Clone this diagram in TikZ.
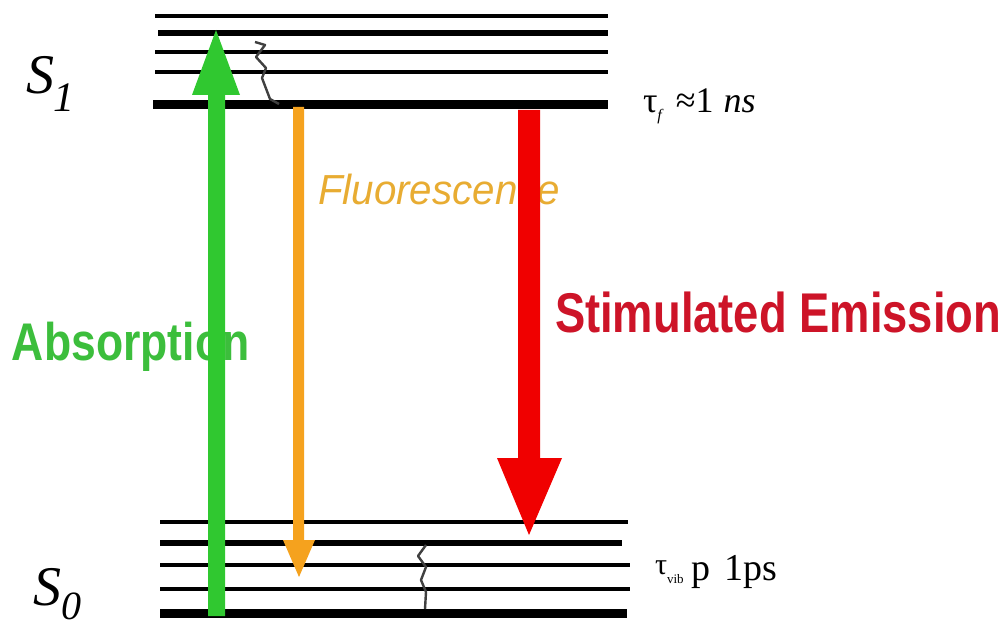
\documentclass[tikz,border=0pt]{standalone}
\usepackage{fontspec}
\usepackage{graphicx}
\setsansfont{Liberation Sans}
\newfontfamily\serifT{Liberation Serif}
\definecolor{absgreen}{RGB}{48,200,48}
\definecolor{abstext}{RGB}{60,190,60}
\definecolor{fluoorange}{RGB}{245,162,30}
\definecolor{fluotext}{RGB}{232,172,50}
\definecolor{emired}{RGB}{240,0,0}
\definecolor{emitext}{RGB}{205,20,40}
\tikzset{
  thinlvl/.style={line width=3.5pt},
  midlvl/.style={line width=5.5pt},
  thicklvl/.style={line width=9pt},
  squig/.style={line width=2.4pt, draw=black!75, line join=round},
  lbl/.style={anchor=base west, inner sep=0pt, outer sep=0pt},
}
\begin{document}
\begin{tikzpicture}[x=1pt,y=-1pt]
\useasboundingbox (0,0) rectangle (1007,628);
\fill[white] (0,0) rectangle (1007,628);

% S1 levels
\draw[thinlvl]  (155,16)  -- (608,16);
\draw[midlvl]   (158,33)  -- (608,33);
\draw[thinlvl]  (155,52)  -- (608,52);
\draw[thinlvl]  (155,72)  -- (608,72);
\draw[thicklvl] (153,105) -- (608,105);

% S0 levels
\draw[thinlvl]  (160,522) -- (628,522);
\draw[midlvl]   (160,543) -- (622,543);
\draw[thinlvl]  (160,565) -- (630,565);
\draw[thinlvl]  (160,589) -- (630,589);
\draw[thicklvl] (160,613) -- (627,613);

% relaxation squiggles
\draw[squig] (255,42) -- (265,45) -- (256,57) -- (266,68) -- (262,78) -- (270,99) -- (279,104);
\draw[squig] (426,545) -- (418,556) -- (426,567) -- (421,580) -- (426,592) -- (425,609);

% labels
\node[lbl] (s1) at (26,94) {\fontsize{56}{56}\selectfont\serifT\itshape S\raisebox{-18pt}{\fontsize{42}{42}\selectfont 1}};
\node[lbl] (s0) at (34,605) {\fontsize{56}{56}\selectfont\serifT\itshape S\raisebox{-14pt}{\fontsize{40}{40}\selectfont 0}};
\node[lbl] (tauf) at (643,113) {\fontsize{36}{36}\selectfont\serifT τ\raisebox{-8pt}{\fontsize{16}{16}\selectfont\itshape f}\hspace{14pt}≈1\hspace{10pt}\itshape ns};
\node[lbl] (tauv) at (655,580) {\fontsize{38}{38}\selectfont\serifT \raisebox{6pt}{\fontsize{30}{30}\selectfont τ}\raisebox{-3pt}{\fontsize{13}{13}\selectfont vib}\hspace{8pt}p\hspace{14pt}1ps};

\node[lbl, text=abstext] (abs) at (12,360) {\fontsize{53}{53}\selectfont\sffamily\bfseries\scalebox{0.84}[1]{Absorption}};
\node[lbl, text=fluotext] (fluo) at (318,205) {\fontsize{42}{42}\selectfont\sffamily\itshape\scalebox{0.96}[1]{Fluorescence}};
\node[lbl, text=emitext] (emi) at (555,333) {\fontsize{56}{56}\selectfont\sffamily\bfseries\scalebox{0.81}[1]{Stimulated Emission}};

% arrows
\fill[absgreen] (208,616) -- (208,95) -- (192,95) -- (216,30) -- (240,95) -- (225,95) -- (225,616) -- cycle;
\fill[fluoorange] (293,107) -- (293,540) -- (283,540) -- (299,577) -- (315,540) -- (304,540) -- (304,107) -- cycle;
\fill[emired] (518,110) -- (518,458) -- (497,458) -- (529,535) -- (562,458) -- (540,458) -- (540,110) -- cycle;
\end{tikzpicture}
\end{document}
